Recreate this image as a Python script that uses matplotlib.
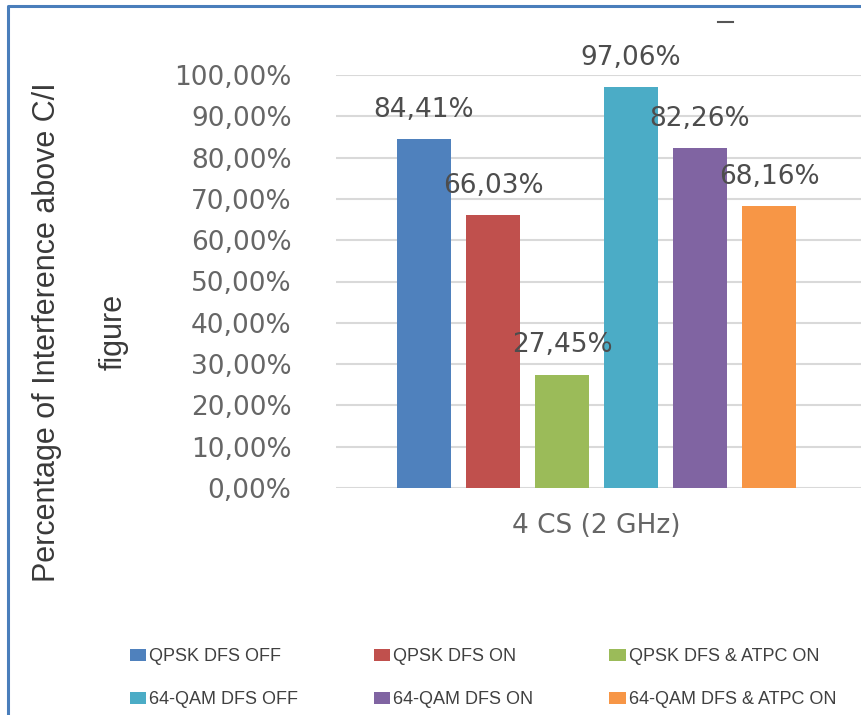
import matplotlib
matplotlib.use("Agg")
import matplotlib.pyplot as plt
from matplotlib.lines import Line2D
from matplotlib.patches import Patch

# datos
series = ['QPSK DFS OFF', 'QPSK DFS ON', 'QPSK DFS & ATPC ON',
          '64-QAM DFS OFF', '64-QAM DFS ON', '64-QAM DFS & ATPC ON']
valores = [84.41, 66.03, 27.45, 97.06, 82.26, 68.16]
categoria = '4 CS (2 GHz)'
yticks = [0, 10, 20, 30, 40, 50, 60, 70, 80, 90, 100]

colores = ['#4F81BD', '#C0504D', '#9BBB59', '#4BACC6', '#8064A2', '#F79646']

W, H = 861, 715
fig = plt.figure(figsize=(W / 100, H / 100), dpi=100)

def fx(px):
    return px / W

def fy(py):
    return 1 - py / H

# ejes: x 336..861 px, y 0% -> 488 px, 100% -> 75 px
ax = fig.add_axes([fx(336), fy(488), 1 - fx(336), fy(75) - fy(488)])
x0 = (336 - 424) / 69
ax.set_xlim(x0, x0 + (W - 336) / 69)
ax.set_ylim(0, 100)

pos = list(range(len(valores)))
ax.bar(pos, valores, width=0.79, color=colores, zorder=3)

for p, v in zip(pos, valores):
    ax.annotate(('%.2f%%' % v).replace('.', ','), (p, v), xytext=(0, 21),
                textcoords='offset points', ha='center', va='center',
                fontsize=19, color='#4d4d4d', family='DejaVu Sans',
                annotation_clip=False, zorder=5)

ax.set_yticks(yticks)
ax.set_yticklabels([('%.2f%%' % t).replace('.', ',') for t in yticks],
                   fontsize=19, color='#666666', family='DejaVu Sans')
ax.tick_params(axis='y', length=0, pad=32)
ax.set_xticks([(len(valores) - 1) / 2])
ax.set_xticklabels([categoria], fontsize=19, color='#666666', family='DejaVu Sans')
ax.tick_params(axis='x', length=0, pad=18)
ax.grid(axis='y', color='#d9d9d9', linewidth=1.5, zorder=0)
for s in ax.spines.values():
    s.set_visible(False)

# titulo del eje y
fig.text(fx(80), fy(332), 'Percentage of Interference above C/I\nfigure',
         rotation=90, ha='center', va='center', multialignment='center',
         fontsize=22, color='#3a3a3a', linespacing=2.6,
         family=['Liberation Sans', 'DejaVu Sans'])

# leyenda en 2 filas x 3 columnas
orden = [0, 3, 1, 4, 2, 5]
handles = [Patch(facecolor=colores[i], edgecolor='none') for i in orden]
labels = [series[i] for i in orden]
fig.legend(handles, labels, ncol=3, loc='upper left',
           bbox_to_anchor=(fx(130), fy(648)), frameon=False,
           prop={'family': ['Liberation Sans', 'DejaVu Sans'], 'size': 13},
           labelcolor='#404040', handlelength=0.9, handleheight=0.67,
           handletextpad=0.17, columnspacing=4.2, labelspacing=1.45,
           borderpad=0, borderaxespad=0)

# marco azul recortado y resto del titulo
fig.add_artist(Line2D([fx(8), fx(8), 1], [0, fy(6), fy(6)], color='#4a7ebb',
                      linewidth=2.2, transform=fig.transFigure))
fig.add_artist(Line2D([fx(718), fx(733)], [fy(22), fy(22)], color='#555555',
                      linewidth=1.5, transform=fig.transFigure))

fig.savefig('out.png', dpi=100)
